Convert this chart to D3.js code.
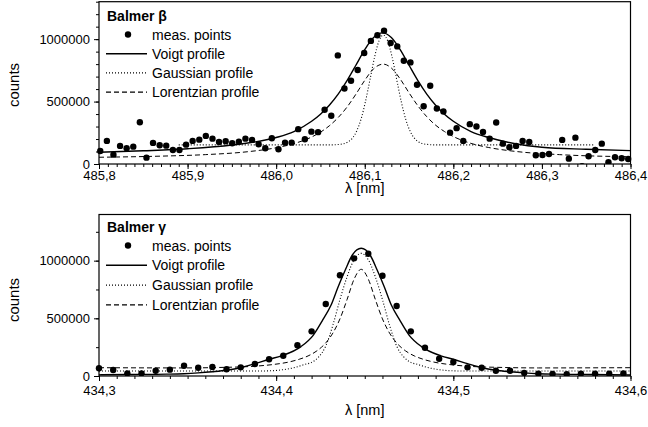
<!DOCTYPE html>
<html>
<head>
<meta charset="utf-8">
<script src="https://cdn.jsdelivr.net/npm/d3@7"></script>
<style>
  body { margin: 0; background: #fff; }
  svg { display: block; font-family: "Liberation Sans", Arial, sans-serif; }
</style>
</head>
<body>
<div id="chart"></div>
<script>
// ---- Balmer beta (top panel) ----
var betaPointsX = [485.8014, 485.8089, 485.8163, 485.8238, 485.8312, 485.8387, 485.8461, 485.8536, 485.8610, 485.8685,
    485.8759, 485.8834, 485.8908, 485.8983, 485.9057, 485.9132, 485.9206, 485.9281, 485.9355, 485.9430,
    485.9504, 485.9579, 485.9653, 485.9728, 485.9802, 485.9877, 485.9951, 486.0026, 486.0100, 486.0175,
    486.0249, 486.0324, 486.0398, 486.0473, 486.0547, 486.0622, 486.0696, 486.0771, 486.0845, 486.0920,
    486.0994, 486.1069, 486.1143, 486.1218, 486.1292, 486.1367, 486.1441, 486.1516, 486.1590, 486.1665,
    486.1739, 486.1814, 486.1888, 486.1963, 486.2037, 486.2112, 486.2186, 486.2261, 486.2335, 486.2410,
    486.2484, 486.2559, 486.2633, 486.2708, 486.2782, 486.2857, 486.2931, 486.3006, 486.3080,
    486.3229, 486.3304, 486.3378, 486.3453, 486.3527, 486.3602, 486.3676, 486.3751, 486.3825, 486.3900, 486.3974];
var betaPointsY = [104000, 185000, 75000, 145000, 126000, 139000, 335000, 51000, 169000, 150000,
    147000, 112000, 112000, 155000, 185000, 195000, 225000, 203000, 177000, 182000,
    166000, 179000, 203000, 193000, 158000, 126000, 206000, 118000, 171000, 171000,
    279000, 198000, 259000, 255000, 434000, 386000, 870000, 605000, 667000, 753000,
    889000, 986000, 1031000, 1068000, 969000, 942000, 827000, 814000, 635000, 463000,
    627000, 444000, 420000, 251000, 287000, 185000, 319000, 300000, 257000, 203000,
    332000, 163000, 134000, 145000, 185000, 177000, 70000, 72000, 80000,
    193000, 43000, 211000, -18000, 62000, 112000, 163000, 14000, 54000, 46000, 40000];

var betaVoigtX = [485.80, 485.85, 485.90, 485.95, 486.00, 486.02, 486.04, 486.05, 486.06, 486.07, 486.08, 486.09, 486.10, 486.11,
    486.12, 486.13, 486.14, 486.15, 486.16, 486.17, 486.18, 486.19, 486.20, 486.22, 486.24, 486.27, 486.30, 486.35, 486.40];
var betaVoigtY = [94000, 106000, 122000, 152000, 212000, 260000, 342000, 399000, 471000, 560000, 668000, 791000, 916000, 1013000,
    1050000, 1013000, 916000, 791000, 668000, 560000, 471000, 399000, 342000, 260000, 212000, 162000, 134000, 118000, 107000];

var betaGaussX = [485.89, 486.06, 486.07, 486.076, 486.081, 486.086, 486.091, 486.096, 486.101, 486.106, 486.111, 486.116,
    486.121, 486.126, 486.131, 486.136, 486.141, 486.146, 486.151, 486.156, 486.161, 486.166, 486.172, 486.18, 486.36];
var betaGaussY = [153000, 153000, 156000, 162000, 176000, 207000, 266000, 364000, 506000, 679000, 853000, 984000,
    1033000, 984000, 853000, 679000, 506000, 364000, 266000, 207000, 176000, 162000, 156000, 153000, 153000];

var betaLorentzX = [485.80, 485.87, 485.92, 485.97, 486.00, 486.02, 486.04, 486.05, 486.06, 486.07, 486.08, 486.09, 486.10, 486.11,
    486.121, 486.13, 486.14, 486.15, 486.16, 486.17, 486.18, 486.19, 486.20, 486.22, 486.24, 486.27, 486.32, 486.40];
var betaLorentzY = [54000, 63000, 75000, 100000, 130000, 163000, 216000, 255000, 306000, 372000, 456000, 559000, 670000, 763000,
    800000, 769000, 681000, 570000, 466000, 379000, 311000, 260000, 220000, 165000, 132000, 101000, 75000, 58000];

// ---- Balmer gamma (bottom panel) ----
var gammaPointsX = [434.300, 434.308, 434.316, 434.324, 434.332, 434.340, 434.348, 434.356, 434.364, 434.372,
    434.380, 434.388, 434.396, 434.404, 434.412, 434.420, 434.428, 434.436, 434.444, 434.452,
    434.460, 434.468, 434.476, 434.484, 434.492, 434.500, 434.508, 434.516, 434.524, 434.532,
    434.540, 434.548, 434.556, 434.564, 434.572, 434.580, 434.588, 434.596];
var gammaPointsY = [67000, 52000, 23000, 23000, 46000, 55000, 89000, 72000, 78000, 58000,
    75000, 104000, 145000, 176000, 266000, 387000, 624000, 873000, 1020000, 1060000,
    869000, 607000, 387000, 245000, 150000, 122000, 75000, 72000, 46000, 46000,
    26000, 20000, 17000, 15000, 20000, 20000, 20000, 23000];

var gammaVoigtX = [434.300, 434.318, 434.338, 434.348, 434.356, 434.364, 434.372, 434.380, 434.388, 434.396, 434.403,
    434.414, 434.421, 434.426, 434.431, 434.435, 434.439, 434.443, 434.448, 434.453, 434.457, 434.461, 434.465,
    434.470, 434.475, 434.482, 434.493, 434.500, 434.508, 434.516, 434.524, 434.532, 434.540, 434.548, 434.558,
    434.578, 434.600];
var gammaVoigtY = [10000, 13000, 16000, 20000, 27000, 37000, 50000, 72000, 107000, 145000, 175000,
    255000, 355000, 478000, 615000, 774000, 919000, 1049000, 1107000, 1049000, 919000, 774000, 615000,
    478000, 355000, 255000, 175000, 145000, 107000, 72000, 50000, 37000, 27000, 20000, 16000,
    13000, 9000];

var gammaGaussX = [434.300, 434.388, 434.398, 434.403, 434.408, 434.412, 434.416, 434.420, 434.424, 434.428, 434.432,
    434.436, 434.440, 434.444, 434.448, 434.452, 434.456, 434.460, 434.464, 434.468, 434.472, 434.476,
    434.480, 434.484, 434.488, 434.493, 434.498, 434.508, 434.600];
var gammaGaussY = [43000, 43000, 46000, 53000, 65000, 80000, 100000, 118000, 165000, 260000, 440000,
    662000, 859000, 1008000, 1063000, 1008000, 859000, 662000, 440000, 260000, 165000, 118000,
    100000, 80000, 65000, 53000, 46000, 43000, 43000];

var gammaLorentzX = [434.300, 434.348, 434.368, 434.388, 434.398, 434.408, 434.413, 434.418, 434.423, 434.428, 434.432,
    434.436, 434.440, 434.444, 434.448, 434.452, 434.456, 434.460, 434.464, 434.468, 434.473, 434.478,
    434.483, 434.488, 434.498, 434.508, 434.528, 434.548, 434.600];
var gammaLorentzY = [72000, 70000, 74000, 85000, 99000, 124000, 145000, 174000, 218000, 287000, 372000,
    495000, 662000, 840000, 925000, 840000, 662000, 495000, 372000, 287000, 218000, 174000,
    145000, 124000, 99000, 85000, 74000, 70000, 72000];

// axis settings
var betaXTicks = [485.8, 485.9, 486.0, 486.1, 486.2, 486.3, 486.4];
var gammaXTicks = [434.3, 434.4, 434.5, 434.6];
var yTicks = [0, 500000, 1000000];

var legendLabels = ["meas. points", "Voigt profile", "Gaussian profile", "Lorentzian profile"];

var W = 648, H = 427;
var left = 99, right = 630.5;

var svg = d3.select("#chart").append("svg")
    .attr("width", W)
    .attr("height", H);

function zip(xs, ys) {
    var out = [];
    for (var i = 0; i < xs.length; i++) {
        out.push({ x: xs[i], y: ys[i] });
    }
    return out;
}

function comma(d) {
    return d3.format(".1f")(d).replace(".", ",");
}

function drawPanel(p) {
    var g = svg.append("g");

    var x = d3.scaleLinear().domain(p.xDomain).range([left, right]);
    var y = d3.scaleLinear().domain(p.yDomain).range([p.bottom, p.top]);

    var clipId = "clip" + p.id;
    svg.append("clipPath").attr("id", clipId)
        .append("rect")
        .attr("x", left - 6)
        .attr("y", p.top)
        .attr("width", right - left + 12)
        .attr("height", p.bottom - p.top);

    // minor ticks x (every 0.01 nm)
    var xMinor = d3.range(0, Math.round((p.xDomain[1] - p.xDomain[0]) / 0.01) + 1).map(function(i) {
        return p.xDomain[0] + i * 0.01;
    });
    g.append("g")
        .attr("transform", "translate(0," + p.bottom + ")")
        .call(d3.axisBottom(x).tickValues(xMinor).tickSize(3).tickFormat(""))
        .call(function(s) { s.select(".domain").remove(); });

    g.append("g")
        .attr("class", "xaxis")
        .attr("transform", "translate(0," + p.bottom + ")")
        .call(d3.axisBottom(x).tickValues(p.xTicks).tickSize(5).tickPadding(p.xPad).tickFormat(comma))
        .call(function(s) { s.select(".domain").remove(); });

    // minor ticks y
    g.append("g")
        .attr("transform", "translate(" + left + ",0)")
        .call(d3.axisLeft(y).tickValues(p.yMinor).tickSize(3).tickFormat(""))
        .call(function(s) { s.select(".domain").remove(); });

    g.append("g")
        .attr("class", "yaxis")
        .attr("transform", "translate(" + left + ",0)")
        .call(d3.axisLeft(y).tickValues(yTicks).tickSize(5).tickPadding(4).tickFormat(d3.format("d")))
        .call(function(s) { s.select(".domain").remove(); });

    g.selectAll(".tick line").attr("stroke", "#000").attr("stroke-width", 1);
    g.selectAll(".tick text")
        .attr("fill", "#000")
        .style("font-size", "13px")
        .style("font-family", "Liberation Sans, Arial, sans-serif");

    // frame
    g.append("rect")
        .attr("x", left)
        .attr("y", p.top)
        .attr("width", right - left)
        .attr("height", p.bottom - p.top)
        .attr("fill", "none")
        .attr("stroke", "#000")
        .attr("stroke-width", 1.2);

    var line = d3.line()
        .x(function(d) { return x(d.x); })
        .y(function(d) { return y(d.y); })
        .curve(d3.curveMonotoneX);

    var plot = g.append("g").attr("clip-path", "url(#" + clipId + ")");

    plot.append("path").datum(zip(p.gaussX, p.gaussY))
        .attr("d", line).attr("fill", "none").attr("stroke", "#000")
        .attr("stroke-width", 1.1).attr("stroke-dasharray", "1,2");
    plot.append("path").datum(zip(p.lorentzX, p.lorentzY))
        .attr("d", line).attr("fill", "none").attr("stroke", "#000")
        .attr("stroke-width", 1).attr("stroke-dasharray", "5,3");
    plot.append("path").datum(zip(p.voigtX, p.voigtY))
        .attr("d", line).attr("fill", "none").attr("stroke", "#000")
        .attr("stroke-width", 1.4);

    plot.selectAll("circle")
        .data(zip(p.pointsX, p.pointsY))
        .enter()
        .append("circle")
        .attr("cx", function(d) { return x(d.x); })
        .attr("cy", function(d) { return y(d.y); })
        .attr("r", 3.2)
        .attr("fill", "#000");

    // axis titles
    g.append("text")
        .attr("x", (left + right) / 2)
        .attr("y", p.bottom + p.xTitleOffset)
        .attr("text-anchor", "middle")
        .style("font-size", "14.5px")
        .text("λ [nm]");

    g.append("text")
        .attr("transform", "translate(19," + p.countsY + ") rotate(-90)")
        .attr("text-anchor", "middle")
        .style("font-size", "15px")
        .text("counts");

    // legend
    var lg = g.append("g");
    lg.append("text")
        .attr("x", 107)
        .attr("y", p.legendTop)
        .style("font-size", "14px")
        .style("font-weight", "bold")
        .text(p.title);

    var styles = [null, "none", "1,2", "5,3"];
    legendLabels.forEach(function(lab, i) {
        var yy = p.legendTop + 13.5 + i * p.legendStep;
        if (i == 0) {
            lg.append("circle").attr("cx", 128).attr("cy", yy).attr("r", 3.2).attr("fill", "#000");
        } else {
            lg.append("line")
                .attr("x1", 106).attr("x2", 147)
                .attr("y1", yy).attr("y2", yy)
                .attr("stroke", "#000")
                .attr("stroke-width", i == 1 ? 1.4 : 1.1)
                .attr("stroke-dasharray", styles[i]);
        }
        lg.append("text")
            .attr("x", 152)
            .attr("y", yy + 5)
            .style("font-size", "14px")
            .text(lab);
    });
}

drawPanel({
    id: "beta",
    top: 1.7, bottom: 164,
    xDomain: [485.8, 486.4], yDomain: [0, 1300000],
    xTicks: betaXTicks, xPad: 2,
    yMinor: d3.range(0, 1300001, 100000),
    pointsX: betaPointsX, pointsY: betaPointsY,
    voigtX: betaVoigtX, voigtY: betaVoigtY,
    gaussX: betaGaussX, gaussY: betaGaussY,
    lorentzX: betaLorentzX, lorentzY: betaLorentzY,
    title: "Balmer β",
    legendTop: 21, legendStep: 19.2,
    xTitleOffset: 28.5, countsY: 85
});

drawPanel({
    id: "gamma",
    top: 214.5, bottom: 376,
    xDomain: [434.3, 434.6], yDomain: [0, 1400000],
    xTicks: gammaXTicks, xPad: 5,
    yMinor: d3.range(0, 1400001, 250000),
    pointsX: gammaPointsX, pointsY: gammaPointsY,
    voigtX: gammaVoigtX, voigtY: gammaVoigtY,
    gaussX: gammaGaussX, gaussY: gammaGaussY,
    lorentzX: gammaLorentzX, lorentzY: gammaLorentzY,
    title: "Balmer γ",
    legendTop: 232, legendStep: 19.8,
    xTitleOffset: 39, countsY: 300
});
</script>
</body>
</html>
